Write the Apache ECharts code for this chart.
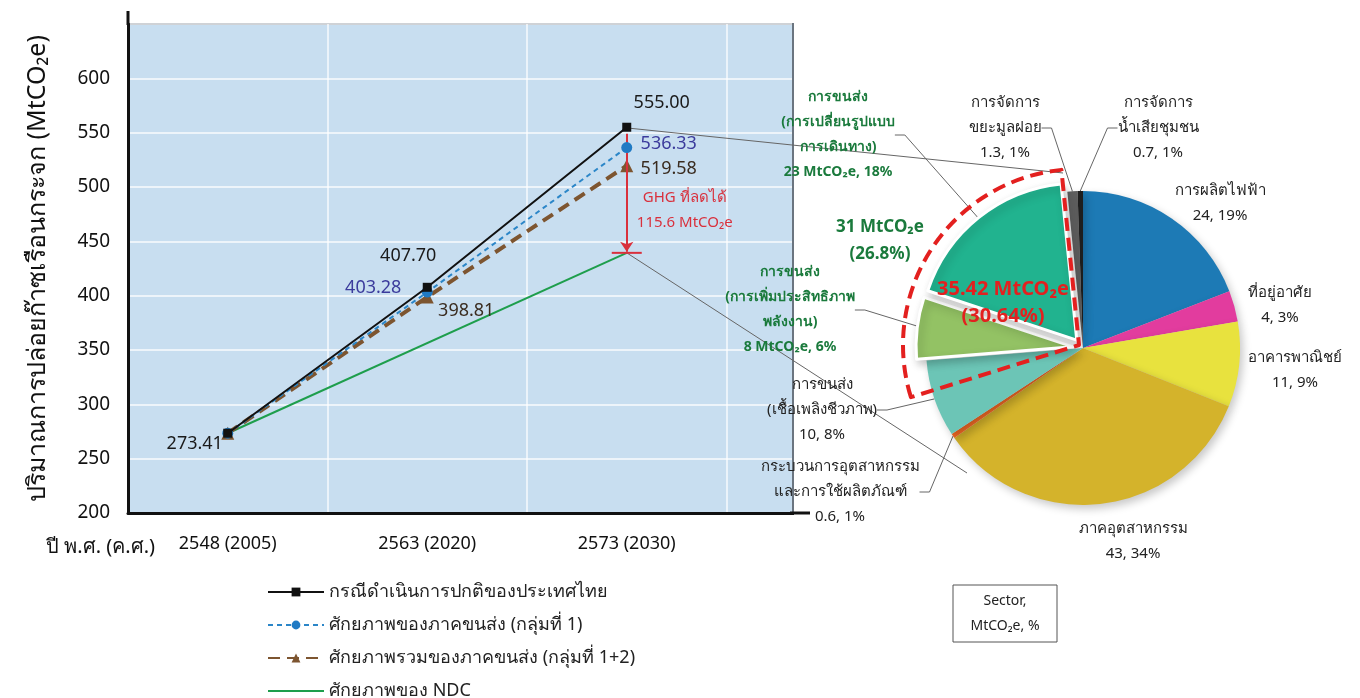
<!DOCTYPE html>
<html><head><meta charset="utf-8">
<script src="https://cdn.jsdelivr.net/npm/echarts@6/dist/echarts.min.js"></script>
<style>html,body{margin:0;padding:0;background:#fff}#c{width:1360px;height:698px}</style>
</head><body><div id="c"></div>
<script>
// ---------- data ----------
const years = ['2548 (2005)', '2563 (2020)', '2573 (2030)', ''];
const seriesNames = ['กรณีดำเนินการปกติของประเทศไทย', 'ศักยภาพของภาคขนส่ง (กลุ่มที่ 1)', 'ศักยภาพรวมของภาคขนส่ง (กลุ่มที่ 1+2)', 'ศักยภาพของ NDC'];
const bau = [273.41, 407.70, 555.00, null];
const group1 = [273.41, 403.28, 536.33, null];
const group12 = [273.41, 398.81, 519.58, null];
const ndc = [273.41, null, 439.4, null];
const ghgReduced = 115.6;

const sectorNames = ['การผลิตไฟฟ้า', 'ที่อยู่อาศัย', 'อาคารพาณิชย์', 'ภาคอุตสาหกรรม',
  'กระบวนการอุตสาหกรรม\nและการใช้ผลิตภัณฑ์', 'การขนส่ง\n(เชื้อเพลิงชีวภาพ)',
  'การขนส่ง\n(การเพิ่มประสิทธิภาพ\nพลังงาน)', 'การขนส่ง\n(การเปลี่ยนรูปแบบ\nการเดินทาง)',
  'การจัดการ\nขยะมูลฝอย', 'การจัดการ\nน้ำเสียชุมชน'];
const sectorValues = [24, 4, 11, 43, 0.6, 10, 8, 23, 1.3, 0.7];
const sectorPct = [19, 3, 9, 34, 1, 8, 6, 18, 1, 1];
const highlightValue = 35.42;
const highlightPct = 30.64;
const transportPct = 26.8;

// ---------- style ----------
const FONT = "'Noto Sans', 'DejaVu Sans', sans-serif";
const CO2 = 'MtCO\u2082e';
const sectorColors = ['#1d7ab5', '#e23c9e', '#e8e23e', '#d4b32b', '#f06a24', '#6cc5b6', '#93c264', '#21b38f', '#5f5f5f', '#1e1e1e'];
const transportIdx = [6, 7];
const pieLabelPos = [[1220, 203], [1280, 305], [1295, 370], [1133, 541], [840, 492], [822, 410], [790, 310], [838, 135], [1005, 128], [1158, 128]];
const lineLabelOffsets = {
  bau: [[-33, 11], [-19, -31], [35, -24]],
  group1: [null, [-54, -4], [42, -4]],
  group12: [null, [39, 14], [42, 3]]
};

function pointData(vals, offsets, color) {
  return vals.map((v, i) => {
    const off = offsets[i];
    return {
      value: v,
      label: off ? { show: true, position: 'inside', offset: off, color: color, fontSize: 18, fontFamily: FONT, formatter: p => Number(p.value).toFixed(2) } : { show: false }
    };
  });
}

const total = sectorValues.reduce((a, b) => a + b, 0);
const hlEnd = sectorValues.slice(0, 8).reduce((a, b) => a + b, 0);
const hlStart = hlEnd - highlightValue;
const transportSum = transportIdx.reduce((a, i) => a + sectorValues[i], 0);
const pieShadow = { shadowBlur: 8, shadowColor: 'rgba(0,0,0,0.22)', shadowOffsetX: 3, shadowOffsetY: 4 };

const chart = echarts.init(document.getElementById('c'));
const option = {
  backgroundColor: '#ffffff',
  animation: false,
  textStyle: { fontFamily: FONT },
  grid: { left: 128, right: 434, top: 24, bottom: 185, show: true, backgroundColor: '#c8def0', borderColor: '#6b7580', borderWidth: 2 },
  legend: {
    data: [
      { name: seriesNames[0] }, { name: seriesNames[1] }, { name: seriesNames[2] },
      { name: seriesNames[3], icon: 'path://M0,6 L56,6 L56,8 L0,8 Z' }
    ],
    orient: 'vertical', left: 262, top: 577, height: 150, itemWidth: 56, itemHeight: 11, itemGap: 13,
    textStyle: { fontSize: 18, color: '#222', fontFamily: FONT, lineHeight: 20 }
  },
  xAxis: {
    type: 'category', data: years, boundaryGap: true,
    name: 'ปี พ.ศ. (ค.ศ.)', nameLocation: 'start', nameGap: -27,
    nameTextStyle: { fontSize: 20, color: '#111', verticalAlign: 'top', padding: [24, 0, 0, 0], fontFamily: FONT },
    axisLine: { lineStyle: { color: '#111', width: 3 } },
    axisTick: { show: false },
    axisLabel: { fontSize: 18, color: '#111', margin: 22, fontFamily: FONT },
    splitLine: { show: true, lineStyle: { color: 'rgba(255,255,255,0.85)', width: 1.5 } }
  },
  yAxis: {
    type: 'value', min: 200, max: 650, interval: 50,
    name: 'ปริมาณการปล่อยก๊าซเรือนกระจก (' + CO2 + ')', nameLocation: 'middle', nameRotate: 90, nameGap: 78,
    nameTextStyle: { fontSize: 25, color: '#111', fontFamily: FONT },
    axisLine: { show: true, lineStyle: { color: '#111', width: 3 } },
    axisTick: { show: false },
    axisLabel: { fontSize: 19, color: '#111', margin: 18, fontFamily: FONT, formatter: v => (v === 650 ? '' : v) },
    splitLine: { show: true, lineStyle: { color: 'rgba(255,255,255,0.9)', width: 1.5 } }
  },
  series: [
    {
      name: seriesNames[3], type: 'line', data: ndc, connectNulls: true, symbol: 'none',
      itemStyle: { color: '#1e9e4c' }, lineStyle: { color: '#1e9e4c', width: 2 }, z: 3,
      markPoint: {
        symbol: 'rect', symbolSize: [30, 2], silent: true,
        itemStyle: { color: '#d9303c' }, label: { show: false },
        data: [{ coord: [2, ndc[2]] }]
      }
    },
    {
      name: seriesNames[2], type: 'line', data: pointData(group12, lineLabelOffsets.group12, '#3a2c20'),
      symbol: 'triangle', symbolSize: 13, itemStyle: { color: '#7d5530' },
      lineStyle: { color: '#7d5530', width: 4, type: [12, 7] }, z: 4
    },
    {
      name: seriesNames[1], type: 'line', data: pointData(group1, lineLabelOffsets.group1, '#3b3b9c'),
      symbol: 'circle', symbolSize: 11, itemStyle: { color: '#1f7ac4' },
      lineStyle: { color: '#2b86c8', width: 2, type: [5, 4] }, z: 5
    },
    {
      name: seriesNames[0], type: 'line', data: pointData(bau, lineLabelOffsets.bau, '#1a1a1a'),
      symbol: 'rect', symbolSize: 9, itemStyle: { color: '#111' },
      lineStyle: { color: '#111', width: 2 }, z: 6,
      markLine: {
        silent: true, symbol: ['none', 'arrow'], symbolSize: 10,
        lineStyle: { color: '#d9303c', width: 2, type: 'solid' }, label: { show: false },
        data: [[{ coord: [2, bau[2] - 6] }, { coord: [2, ndc[2] + 1] }]]
      },
      markPoint: {
        symbol: 'circle', symbolSize: 1, silent: true, itemStyle: { color: 'transparent' },
        label: {
          show: true, offset: [58, 20], color: '#d9303c', fontSize: 15, lineHeight: 25, fontFamily: FONT,
          formatter: () => 'GHG ที่ลดได้\n' + ghgReduced + ' ' + CO2
        },
        data: [{ coord: [2, (bau[2] + ndc[2]) / 2] }]
      }
    },
    {
      // main pie (exploded transport slices drawn by the overlay series below; their labels stay here)
      name: 'sectors', type: 'pie', center: [1083, 348], radius: [0, 157], startAngle: 90, clockwise: true,
      avoidLabelOverlap: false, z: 6, silent: true,
      emphasis: { disabled: true },
      label: { show: true, fontSize: 15, lineHeight: 25, color: '#222', fontFamily: FONT, align: 'center' },
      labelLine: { show: true, length: 10, length2: 10, lineStyle: { color: '#666', width: 1 } },
      labelLayout: p => ({ x: pieLabelPos[p.dataIndex][0], y: pieLabelPos[p.dataIndex][1], align: 'center', verticalAlign: 'middle' }),
      data: sectorValues.map((v, i) => {
        const isT = transportIdx.includes(i);
        const item = {
          name: sectorNames[i], value: v,
          itemStyle: isT ? { color: 'transparent' } : Object.assign({ color: sectorColors[i] }, pieShadow),
          label: {
            formatter: isT ? (sectorNames[i] + '\n' + v + ' ' + CO2 + ', ' + sectorPct[i] + '%') : (sectorNames[i] + '\n' + v + ', ' + sectorPct[i] + '%')
          },
          labelLine: { show: i >= 4 }
        };
        if (isT) {
          item.label.color = '#1a7a3c';
          item.label.fontWeight = 'bold';
          item.label.fontSize = 14;
        }
        return item;
      })
    },
    {
      // overlay: exploded transport slices
      name: 'exploded', type: 'pie', center: [1083, 348], radius: [0, 157], startAngle: 90, clockwise: true,
      selectedMode: 'multiple', selectedOffset: 10, z: 6, silent: true,
      emphasis: { disabled: true }, label: { show: false }, labelLine: { show: false },
      data: sectorValues.map((v, i) => {
        const isT = transportIdx.includes(i);
        return {
          name: sectorNames[i] + ' ', value: v, selected: isT,
          itemStyle: isT ? Object.assign({ color: sectorColors[i], borderColor: '#fff', borderWidth: 3 }, pieShadow) : { color: 'transparent' }
        };
      })
    },
    {
      name: 'highlight', type: 'pie', center: [1079, 345], radius: [0, 176], startAngle: 90, clockwise: true,
      silent: true, z: 7, avoidLabelOverlap: false,
      emphasis: { disabled: true },
      labelLine: { show: false },
      labelLayout: p => (p.dataIndex === 1 ? { x: 1003, y: 303, align: 'center', verticalAlign: 'middle' } : {}),
      data: [
        { value: hlStart, itemStyle: { color: 'transparent' }, label: { show: false } },
        {
          value: highlightValue,
          itemStyle: { color: 'transparent', borderColor: '#e3201f', borderWidth: 4, borderType: [13, 7] },
          label: {
            show: true, position: 'inside', color: '#e3201f', fontWeight: 'bold', fontSize: 20, lineHeight: 27, fontFamily: FONT,
            formatter: highlightValue + ' ' + CO2 + '\n(' + highlightPct + '%)'
          }
        },
        { value: total - hlEnd, itemStyle: { color: 'transparent' }, label: { show: false } }
      ]
    }
  ]
};
chart.setOption(option);

const p555 = chart.convertToPixel({ xAxisIndex: 0, yAxisIndex: 0 }, [2, bau[2]]);
const pNdc = chart.convertToPixel({ xAxisIndex: 0, yAxisIndex: 0 }, [2, ndc[2]]);
chart.setOption({
  graphic: [
    { type: 'rect', z: 1, silent: true, shape: { x: 794, y: 10, width: 140, height: 508 }, style: { fill: '#ffffff' } },
    { type: 'line', z: 3, silent: true, shape: { x1: 793, y1: 23, x2: 793, y2: 513 }, style: { stroke: '#6b7580', lineWidth: 2 } },
    { type: 'line', z: 3, silent: true, shape: { x1: 790, y1: 513, x2: 810, y2: 513 }, style: { stroke: '#111', lineWidth: 3 } },
    { type: 'line', z: 3, silent: true, shape: { x1: 128, y1: 11, x2: 128, y2: 25 }, style: { stroke: '#111', lineWidth: 3 } },
    { type: 'line', z: 3, silent: true, shape: { x1: p555[0] + 3, y1: p555[1] + 1, x2: 1063, y2: 173 }, style: { stroke: '#666', lineWidth: 1 } },
    { type: 'line', z: 3, silent: true, shape: { x1: pNdc[0], y1: pNdc[1], x2: 967, y2: 473 }, style: { stroke: '#666', lineWidth: 1 } },
    {
      type: 'text', z: 8, silent: true, x: 880, y: 241,
      style: {
        text: transportSum + ' ' + CO2 + '\n(' + transportPct + '%)', fill: '#1a7a3c', font: 'bold 17px ' + FONT,
        align: 'center', verticalAlign: 'middle', lineHeight: 27
      }
    },
    {
      type: 'group', z: 8, silent: true,
      children: [
        { type: 'rect', shape: { x: 953, y: 585, width: 104, height: 57 }, style: { fill: '#fff', stroke: '#555', lineWidth: 1 } },
        {
          type: 'text', x: 1005, y: 614,
          style: { text: 'Sector,\n' + CO2 + ', %', fill: '#222', font: '14px ' + FONT, align: 'center', verticalAlign: 'middle', lineHeight: 25 }
        }
      ]
    }
  ]
});
</script></body></html>
